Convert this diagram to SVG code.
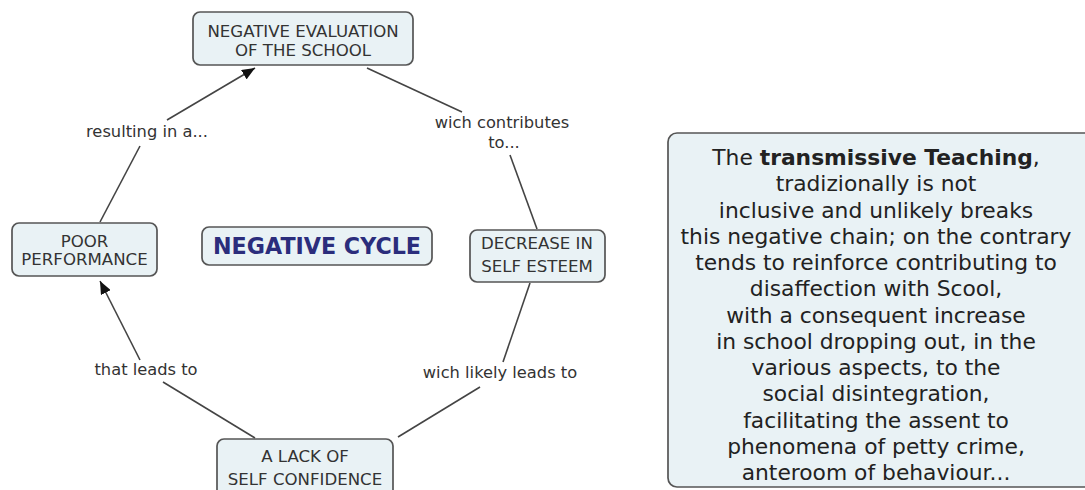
<svg xmlns="http://www.w3.org/2000/svg" width="1085" height="490" viewBox="0 0 1085 490">
<style>
.node{fill:#e9f2f5;stroke:#555;stroke-width:1.7}
.nt{font-family:"DejaVu Sans",Verdana,sans-serif;font-size:16.6px;fill:#333;text-anchor:middle}
.lbl{font-family:"DejaVu Sans",Verdana,sans-serif;font-size:16.3px;fill:#333;text-anchor:middle}
.con{stroke:#444;stroke-width:1.6;fill:none}
.big{font-family:"DejaVu Sans",Verdana,sans-serif;font-size:21.8px;fill:#222;text-anchor:middle}
</style>
<defs>
<marker id="arr" viewBox="0 0 13 11" refX="13" refY="5.5" markerWidth="13" markerHeight="11" markerUnits="userSpaceOnUse" orient="auto">
<path d="M0,0 L13,5.5 L0,11 Z" fill="#111"/>
</marker>
</defs>
<rect width="1085" height="490" fill="#fff"/>
<g id="connectors">
<line class="con" x1="100" y1="222" x2="140" y2="146"/>
<line class="con" x1="167" y1="120" x2="255" y2="68" marker-end="url(#arr)"/>
<line class="con" x1="367" y1="68" x2="462" y2="112"/>
<line class="con" x1="510" y1="155" x2="537" y2="229"/>
<line class="con" x1="530" y1="283" x2="503" y2="362"/>
<line class="con" x1="480" y1="387" x2="398" y2="437"/>
<line class="con" x1="255" y1="438" x2="163" y2="382"/>
<line class="con" x1="140" y1="360" x2="100" y2="281" marker-end="url(#arr)"/>
</g>
<g id="labels">
<text class="lbl" x="147" y="137">resulting in a...</text>
<text class="lbl" x="502" y="128">wich contributes</text>
<text class="lbl" x="504" y="148">to...</text>
<text class="lbl" x="146" y="375">that leads to</text>
<text class="lbl" x="500" y="378">wich likely leads to</text>
</g>
<g id="node-eval">
<rect class="node" x="193" y="12" width="220" height="53" rx="7"/>
<text class="nt" x="303" y="37">NEGATIVE EVALUATION</text>
<text class="nt" x="303" y="56">OF THE SCHOOL</text>
</g>
<g id="node-poor">
<rect class="node" x="12" y="223" width="145" height="53" rx="7"/>
<text class="nt" x="84.5" y="247">POOR</text>
<text class="nt" x="84.5" y="265">PERFORMANCE</text>
</g>
<g id="node-cycle">
<rect class="node" x="202" y="227" width="230" height="38" rx="7"/>
<text x="317" y="254" style="font-family:'DejaVu Sans',Verdana,sans-serif;font-size:22.2px;font-weight:bold;fill:#2b2d7c;text-anchor:middle">NEGATIVE CYCLE</text>
</g>
<g id="node-decrease">
<rect class="node" x="470" y="230" width="135" height="52" rx="7"/>
<text class="nt" x="537" y="249">DECREASE IN</text>
<text class="nt" x="537" y="272">SELF ESTEEM</text>
</g>
<g id="node-lack">
<rect class="node" x="217" y="439" width="176" height="60" rx="7"/>
<text class="nt" x="305" y="462">A LACK OF</text>
<text class="nt" x="305" y="485">SELF CONFIDENCE</text>
</g>
<g id="node-note">
<rect class="node" x="668" y="133" width="430" height="354" rx="9"/>
<text class="big" x="876" y="165">The <tspan font-weight="bold">transmissive Teaching</tspan>,</text>
<text class="big" x="876" y="191.25">tradizionally is not</text>
<text class="big" x="876" y="217.5">inclusive and unlikely breaks</text>
<text class="big" x="876" y="243.75">this negative chain; on the contrary</text>
<text class="big" x="876" y="270">tends to reinforce contributing to</text>
<text class="big" x="876" y="296.25">disaffection with Scool,</text>
<text class="big" x="876" y="322.5">with a consequent increase</text>
<text class="big" x="876" y="348.75">in school dropping out, in the</text>
<text class="big" x="876" y="375">various aspects, to the</text>
<text class="big" x="876" y="401.25">social disintegration,</text>
<text class="big" x="876" y="427.5">facilitating the assent to</text>
<text class="big" x="876" y="453.75">phenomena of petty crime,</text>
<text class="big" x="876" y="480">anteroom of behaviour...</text>
</g>
</svg>
